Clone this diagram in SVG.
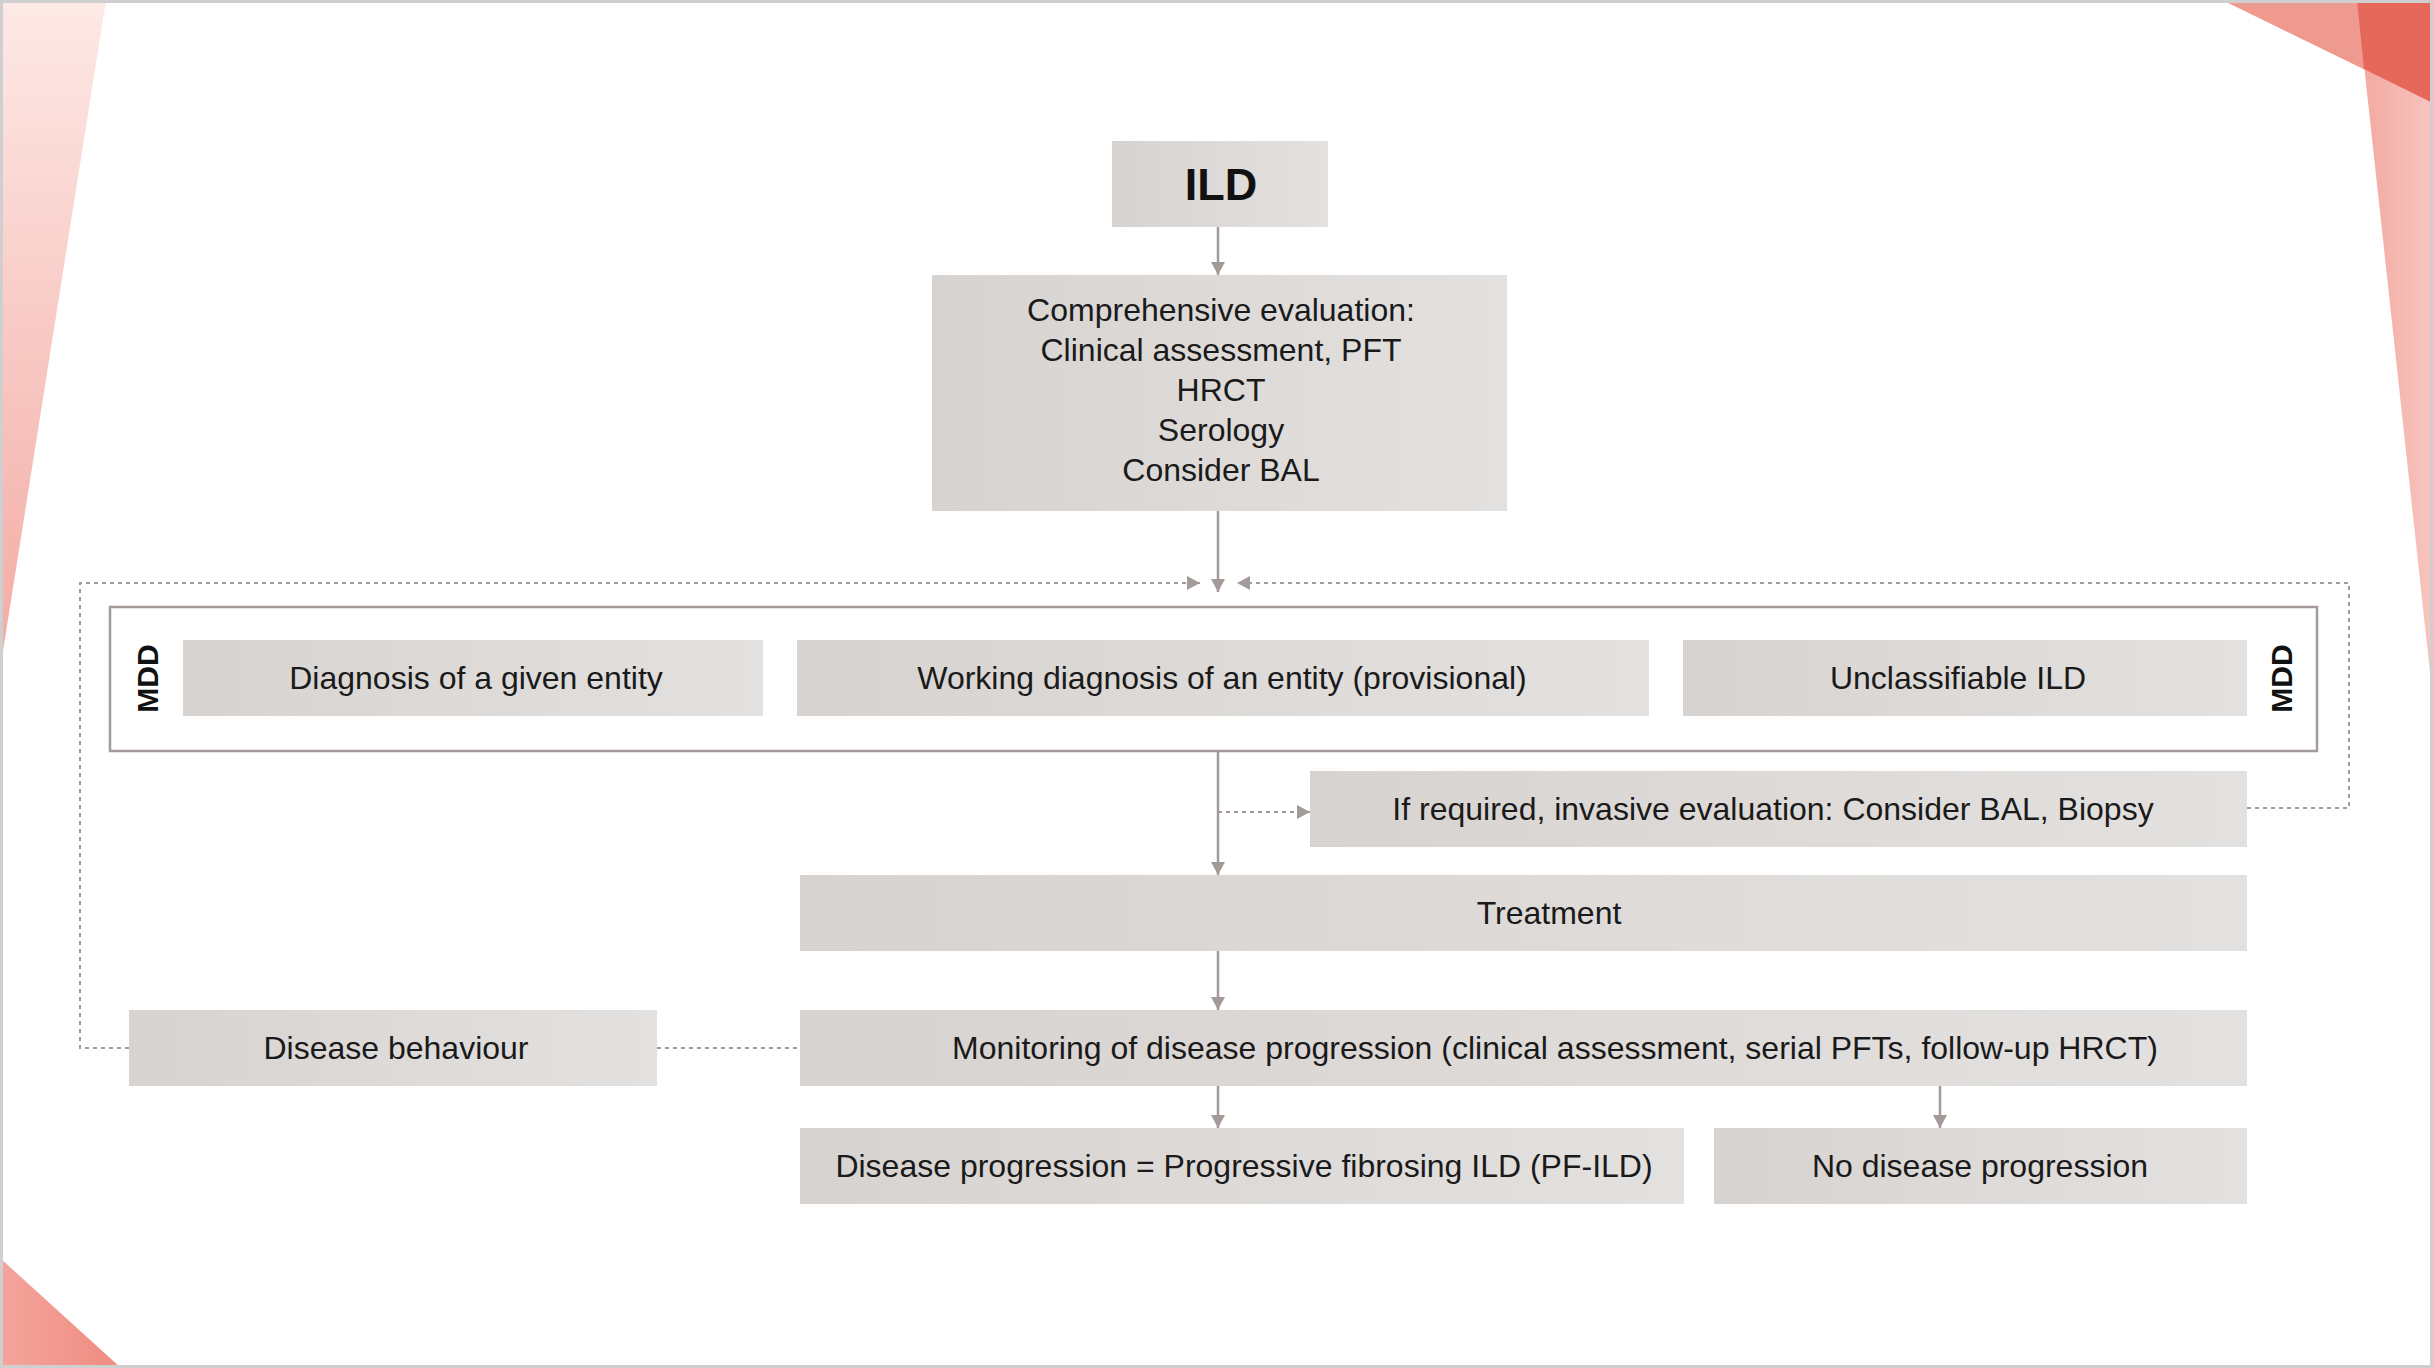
<svg xmlns="http://www.w3.org/2000/svg" width="2433" height="1368" viewBox="0 0 2433 1368">
<defs>
<linearGradient id="boxg" x1="0" y1="0" x2="1" y2="0">
<stop offset="0" stop-color="#d7d3d1"/>
<stop offset="1" stop-color="#e3e1df"/>
</linearGradient>
<linearGradient id="lwedge" x1="0" y1="0" x2="0" y2="1">
<stop offset="0" stop-color="#fde9e6"/>
<stop offset="1" stop-color="#f4aaa3"/>
</linearGradient>
<linearGradient id="rstrip" x1="0" y1="0" x2="1" y2="0">
<stop offset="0" stop-color="#f3a69d"/>
<stop offset="1" stop-color="#f7c6bf"/>
</linearGradient>
<linearGradient id="blcorner" x1="0" y1="0" x2="1" y2="0">
<stop offset="0" stop-color="#f5a59c"/>
<stop offset="1" stop-color="#ef8b80"/>
</linearGradient>
<marker id="arr" markerUnits="userSpaceOnUse" markerWidth="14" markerHeight="14" viewBox="0 0 14 14" refX="13" refY="7" orient="auto">
<path d="M0,0 L13,7 L0,14 z" fill="#a39b98"/>
</marker>
<style>
.box{fill:url(#boxg);}
.t{font-family:"Liberation Sans",Arial,Helvetica,sans-serif;font-size:32px;fill:#1a1a1a;text-anchor:middle;}
.b{font-family:"Liberation Sans",Arial,Helvetica,sans-serif;font-weight:bold;fill:#111;text-anchor:middle;}
.solid{fill:none;stroke:#a39b98;stroke-width:2.5;}
.dash{fill:none;stroke:#a39b98;stroke-width:2;stroke-dasharray:4 4;}
</style>
</defs>

<g id="background">
<rect x="0" y="0" width="2433" height="1368" fill="#ffffff"/>
<polygon points="0,0 106,0 0,670" fill="url(#lwedge)"/>
<polygon points="0,1258 121,1368 0,1368" fill="url(#blcorner)"/>
<polygon points="2357,0 2433,0 2433,700" fill="url(#rstrip)"/>
<polygon points="2222,0 2433,0 2433,103" fill="#ef9a8e"/>
<polygon points="2357,0 2433,0 2433,103 2364,69" fill="#e6685b"/>
<rect x="1.5" y="1.5" width="2430" height="1365" fill="none" stroke="#cfcfcf" stroke-width="3"/>
</g>

<g id="mdd-container">
<rect x="110" y="607" width="2207" height="144" fill="#ffffff" stroke="#a39b98" stroke-width="2.5"/>
<text class="b" font-size="30" transform="translate(158,678.5) rotate(-90)">MDD</text>
<text class="b" font-size="30" transform="translate(2292,678.5) rotate(-90)">MDD</text>
</g>

<g id="connectors">
<path class="solid" d="M1218,227 L1218,275" marker-end="url(#arr)"/>
<path class="solid" d="M1218,511 L1218,592" marker-end="url(#arr)"/>
<path class="dash" d="M129,1048 L80,1048 L80,583 L1200,583" marker-end="url(#arr)"/>
<path class="dash" d="M2247,808 L2349,808 L2349,583 L1237,583" marker-end="url(#arr)"/>
<path class="solid" d="M1218,751 L1218,875" marker-end="url(#arr)"/>
<path class="dash" d="M1218,812 L1310,812" marker-end="url(#arr)"/>
<path class="solid" d="M1218,951 L1218,1010" marker-end="url(#arr)"/>
<path class="solid" d="M1218,1086 L1218,1128" marker-end="url(#arr)"/>
<path class="solid" d="M1940,1086 L1940,1128" marker-end="url(#arr)"/>
<path class="dash" d="M657,1048 L800,1048"/>
</g>

<g id="ild">
<rect class="box" x="1112" y="141" width="216" height="86"/>
<text class="b" font-size="45" x="1221" y="200">ILD</text>
</g>

<g id="comprehensive">
<rect class="box" x="932" y="275" width="575" height="236"/>
<text class="t" x="1221" y="321">Comprehensive evaluation:</text>
<text class="t" x="1221" y="361">Clinical assessment, PFT</text>
<text class="t" x="1221" y="401">HRCT</text>
<text class="t" x="1221" y="441">Serology</text>
<text class="t" x="1221" y="481">Consider BAL</text>
</g>

<g id="diagnosis">
<rect class="box" x="183" y="640" width="580" height="76"/>
<text class="t" x="476" y="689">Diagnosis of a given entity</text>
</g>

<g id="working">
<rect class="box" x="797" y="640" width="852" height="76"/>
<text class="t" x="1222" y="689">Working diagnosis of an entity (provisional)</text>
</g>

<g id="unclassifiable">
<rect class="box" x="1683" y="640" width="564" height="76"/>
<text class="t" x="1958" y="689">Unclassifiable ILD</text>
</g>

<g id="invasive">
<rect class="box" x="1310" y="771" width="937" height="76"/>
<text class="t" x="1773" y="820">If required, invasive evaluation: Consider BAL, Biopsy</text>
</g>

<g id="treatment">
<rect class="box" x="800" y="875" width="1447" height="76"/>
<text class="t" x="1549" y="924">Treatment</text>
</g>

<g id="monitoring">
<rect class="box" x="800" y="1010" width="1447" height="76"/>
<text class="t" x="1555" y="1059">Monitoring of disease progression (clinical assessment, serial PFTs, follow-up HRCT)</text>
</g>

<g id="behaviour">
<rect class="box" x="129" y="1010" width="528" height="76"/>
<text class="t" x="396" y="1059">Disease behaviour</text>
</g>

<g id="progression">
<rect class="box" x="800" y="1128" width="884" height="76"/>
<text class="t" x="1244" y="1177">Disease progression = Progressive fibrosing ILD (PF-ILD)</text>
</g>

<g id="no-progression">
<rect class="box" x="1714" y="1128" width="533" height="76"/>
<text class="t" x="1980" y="1177">No disease progression</text>
</g>
</svg>
